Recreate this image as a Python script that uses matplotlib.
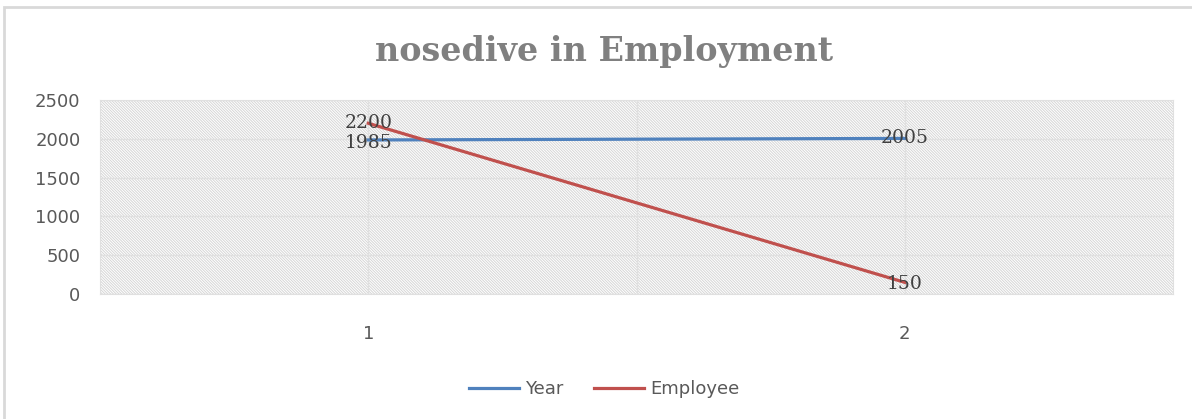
import matplotlib.pyplot as plt
from matplotlib.patches import Rectangle

categories = [1, 2]
year = [1985, 2005]
employee = [2200, 150]
yticks = [0, 500, 1000, 1500, 2000, 2500]

plt.rcParams["hatch.linewidth"] = 0.7

fig = plt.figure(figsize=(11.92, 4.19), dpi=100)
ax = fig.add_axes([100 / 1192, 1 - 294 / 419, 1073 / 1192, 194 / 419])

# hatched plot area
ax.add_patch(Rectangle((0, 0), 1, 1, transform=ax.transAxes, facecolor="white",
                       edgecolor="#d6d6d6", hatch="\\" * 12, lw=0, zorder=0))

ax.plot(categories, year, color="#4F81BD", lw=2.3, label="Year", zorder=3)
ax.plot(categories, employee, color="#C0504D", lw=2.3, label="Employee", zorder=3)

lab = dict(family="DejaVu Serif", fontsize=13.5, color="#404040", ha="center", va="center", zorder=4)
ax.text(categories[0], employee[0], str(employee[0]), **lab)
ax.text(categories[0], year[0] - 35, str(year[0]), **lab)
ax.text(categories[1], year[1], str(year[1]), **lab)
ax.text(categories[1], employee[1] - 15, str(employee[1]), **lab)

ax.set_xlim(0.5, 2.5)
ax.set_ylim(0, 2500)
ax.set_yticks(yticks)
ax.set_xticks(categories)
ax.set_xticks([1.5], minor=True)
ax.grid(True, which="both", color="#e0e0e0", lw=1, zorder=1)
ax.set_axisbelow(True)
ax.tick_params(which="both", length=0)
ax.tick_params(axis="y", pad=14, labelsize=13, labelcolor="#595959")
ax.tick_params(axis="x", pad=22, labelsize=13, labelcolor="#595959")
for s in ax.spines.values():
    s.set_color("#e0e0e0")

fig.text(604 / 1192, 1 - 52 / 419, "nosedive in Employment", family="DejaVu Serif",
         fontweight="bold", fontsize=24, color="#808080", ha="center", va="center")

leg = fig.legend(loc="center", bbox_to_anchor=(604 / 1192, 1 - 389 / 419), ncol=2,
                 frameon=False, prop={"size": 13},
                 handlelength=2.8, columnspacing=1.7, handletextpad=0.3)
for t in leg.get_texts():
    t.set_color("#595959")

# chart border
fig.add_artist(Rectangle((4 / 1192, -0.1), 1.2, 1 - 7 / 419 + 0.1, transform=fig.transFigure,
                         fill=False, edgecolor="#d9d9d9", lw=2))

fig.savefig("out.png", dpi=100)
